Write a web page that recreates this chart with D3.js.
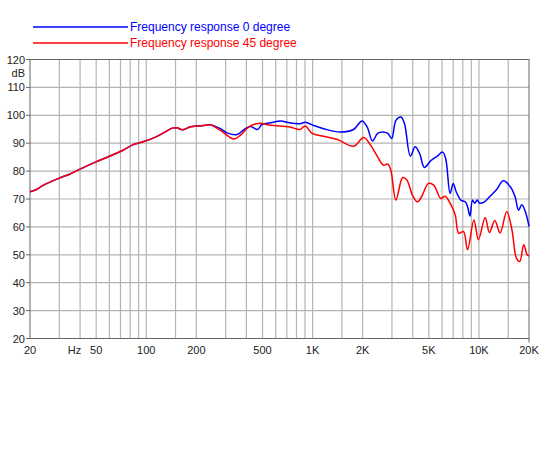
<!DOCTYPE html>
<html><head><meta charset="utf-8">
<script src="https://cdn.jsdelivr.net/npm/d3@7"></script>
<style>body{margin:0;background:#fff;}svg text{font-family:"Liberation Sans",Arial,sans-serif;}</style>
</head><body>
<svg id="c" width="550" height="450"></svg>
<script>
const seriesNames = ["Frequency response 0 degree", "Frequency response 45 degree"];
const seriesColors = ["#0000ff", "#ff0000"];
const yTicks = [20,30,40,50,60,70,80,90,100,110,120];
const xGrid = [30,40,50,60,70,80,90,100,150,200,300,400,500,600,700,800,900,1000,1500,2000,3000,4000,5000,6000,7000,8000,9000,10000,15000];
const xLabelFreqs = [20,37,50,100,200,500,1000,2000,5000,10000,20000];
const xLabels = ["20","Hz","50","100","200","500","1K","2K","5K","10K","20K"];

// shared low-frequency part (both curves overlap)
const lowF = [20,21.7,23.8,30,34.3,40.6,49.5,59.9,72,82.9,94.6,113.7,127,143.2,153,165,185,227,243];
const lowDb = [72.6,73.3,74.8,77.5,78.8,80.9,83.2,85.3,87.4,89.4,90.4,92.2,93.7,95.4,95.5,94.8,95.9,96.4,96.6];

const f0 = [279,306,352,387,424,467,497,560,640,730,840,903,1010,1165,1465,1760,1980,2130,2290,2460,2640,2830,2990,3170,3400,3570,3870,4140,4400,4700,5130,5630,6050,6310,6710,7000,7300,7780,8270,8540,8830,9150,9420,9770,10100,10800,11500,12700,14010,15440,16500,17300,18100,19000,20000];
const db0 = [95.2,93.7,93.1,94.9,96.0,94.9,96.8,97.3,98.0,97.3,97.0,97.5,96.4,95.2,94.0,94.9,98.0,95.8,90.8,93.5,94.0,93.5,91.7,98.2,99.4,97.0,85.4,88.7,86.3,81.3,83.7,85.4,86.8,84.5,72.0,75.6,72.6,69.6,69.0,67.3,63.9,69.6,68.5,69.6,68.5,69.0,70.6,73.2,76.5,74.4,70.8,66.0,67.9,65.5,60.2];

const f45 = [279,336,369,412,474,560,730,840,903,994,1165,1410,1760,2030,2230,2460,2670,2830,2950,3170,3480,3690,3980,4260,4520,4970,5350,5900,6260,6790,7200,7570,8080,8540,9330,9930,10900,11570,12460,13400,14700,15800,16800,17600,18600,19500,20000];
const db45 = [94.6,91.5,92.9,95.8,97.1,96.4,95.8,94.9,96.2,93.5,92.5,91.3,88.9,92.0,89.3,85.1,82.1,82.5,80.4,69.6,77.7,76.8,71.4,69.0,70.8,75.6,75.0,70.2,71.0,67.9,64.3,57.7,58.3,51.8,62.5,55.4,63.4,58.0,62.3,57.8,65.5,58.9,48.8,47.6,53.6,50.0,49.6];

const series = [
  lowF.concat(f0).map((f,i)=>({f, db: lowDb.concat(db0)[i]})),
  lowF.concat(f45).map((f,i)=>({f, db: lowDb.concat(db45)[i]}))
];

const L=30, R=529, T=59.5, B=338.5;
const svg = d3.select("#c");
const x = d3.scaleLog().domain([20,20000]).range([L,R]);
const y = d3.scaleLinear().domain([20,120]).range([B,T]);

// grid
svg.append("g").selectAll("line").data(xGrid).join("line")
  .attr("x1",d=>x(d)).attr("x2",d=>x(d)).attr("y1",T).attr("y2",B)
  .attr("stroke","#b4b4b4").attr("stroke-width",1.2);
svg.append("g").selectAll("line").data(yTicks.slice(1,-1)).join("line")
  .attr("x1",L).attr("x2",R).attr("y1",d=>y(d)).attr("y2",d=>y(d))
  .attr("stroke","#b4b4b4").attr("stroke-width",1.2);

// y axis ticks & labels
svg.append("g").selectAll("line").data(yTicks).join("line")
  .attr("x1",L-4).attr("x2",L).attr("y1",d=>y(d)).attr("y2",d=>y(d))
  .attr("stroke","#666").attr("stroke-width",1);
svg.append("g").selectAll("text").data(yTicks).join("text")
  .attr("x",L-5).attr("y",d=>y(d)+4).attr("text-anchor","end")
  .attr("font-size",11).attr("fill","#222").text(d=>d);
svg.append("text").attr("x",L-5).attr("y",y(115)+4).attr("text-anchor","end")
  .attr("font-size",11).attr("fill","#222").text("dB");

// x labels
svg.append("g").selectAll("text").data(xLabelFreqs).join("text")
  .attr("x",d=>x(d)).attr("y",B+15).attr("text-anchor","middle")
  .attr("font-size",11).attr("fill","#222").text((d,i)=>xLabels[i]);
svg.append("line").attr("x1",R).attr("x2",R).attr("y1",B).attr("y2",B+4).attr("stroke","#666");

// border
svg.append("rect").attr("x",L).attr("y",T).attr("width",R-L).attr("height",B-T)
  .attr("fill","none").attr("stroke","#666").attr("stroke-width",1);

// curves (red drawn on top, as in the reference)
const line = d3.line().x(d=>x(d.f)).y(d=>y(d.db)).curve(d3.curveCatmullRom.alpha(0.5));
[0,1].forEach(i=>{
  svg.append("path").datum(series[i]).attr("d",line).attr("fill","none")
    .attr("stroke",seriesColors[i]).attr("stroke-width",1.5);
});

// legend
seriesNames.forEach((n,i)=>{
  const ly = 27 + i*16;
  svg.append("line").attr("x1",33).attr("x2",128).attr("y1",ly).attr("y2",ly)
    .attr("stroke",seriesColors[i]).attr("stroke-width",1.5);
  svg.append("text").attr("x",130).attr("y",ly+4).attr("font-size",12)
    .attr("fill",seriesColors[i]).text(n);
});
</script>
</body></html>
